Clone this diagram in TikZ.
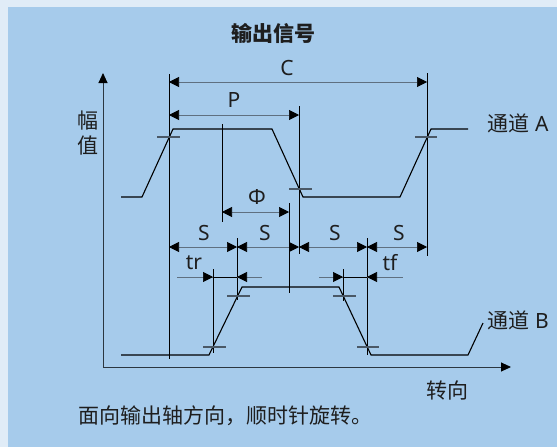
\documentclass[tikz,border=0pt]{standalone}
\usepackage{fontspec}
\setmainfont{Noto Sans}
\newfontfamily\cjk{Noto Sans CJK SC}
\usetikzlibrary{arrows.meta}
\definecolor{outerbg}{HTML}{E0ECF7}
\definecolor{panelbg}{HTML}{A6CBEB}
\definecolor{dimgray}{HTML}{5F7080}
\definecolor{tickgray}{HTML}{4A5866}
\definecolor{axiscol}{HTML}{2B3640}
\definecolor{textcol}{HTML}{1E1E1E}
\begin{document}
\begin{tikzpicture}[x=1pt,y=-1pt,
  wave/.style={black,line width=1.1pt},
  vline/.style={black,line width=0.9pt},
  tickmark/.style={draw=tickgray,line width=1.6pt},
  dimline/.style={draw=dimgray,line width=0.7pt},
  axisline/.style={draw=axiscol,line width=0.9pt},
  lbl/.style={font=\fontsize{21}{25}\selectfont, text=textcol, inner sep=0pt},
  cjklbl/.style={font=\cjk\fontsize{21}{25}\selectfont, text=textcol, inner sep=0pt},
  >={Triangle[length=10pt,width=10pt,color=black]}
]
\fill[outerbg] (0,0) rectangle (557,447);
\fill[panelbg] (8,7) rectangle (557,447);
\useasboundingbox (0,0) rectangle (557,447);

% axes
\coordinate (ytop) at (103,73);
\coordinate (orig) at (103,367);
\coordinate (xend) at (511,367);
\draw[axisline,<->,>={Triangle[length=10pt,width=9pt,color=black]}] (ytop) -- (orig) -- (xend);

% waveforms
\draw[wave] (121,197) -- (142,197) -- (173,129) -- (272,129) -- (303,197) -- (400,197) -- (431,129) -- (468,129);
\draw[wave] (121,355) -- (209,355) -- (242,287) -- (339,287) -- (371,355) -- (468,355) -- (483,323);

% vertical reference lines
\draw[vline] (169,74) -- (169,359);
\draw[vline] (299,106) -- (299,254);
\draw[vline] (427,73) -- (427,256);
\draw[vline] (222,124) -- (222,222);
\draw[vline] (289,203) -- (289,293);
\draw[vline] (237,238) -- (237,300);
\draw[vline] (367,238) -- (367,355);
\draw[vline] (213,269) -- (213,353);
\draw[vline] (343,269) -- (343,301);

% tick marks
\draw[tickmark] (157,137) -- (180,137);
\draw[tickmark] (289,189) -- (312,189);
\draw[tickmark] (415,137) -- (437,137);
\draw[tickmark] (203,347) -- (226,347);
\draw[tickmark] (227,296) -- (250,296);
\draw[tickmark] (333,296) -- (356,296);
\draw[tickmark] (357,347) -- (379,347);

% dimensions
\draw[dimline,<->] (169,82) -- (427,82);
\draw[dimline,<->] (169,115) -- (299,115);
\draw[dimline,<->] (222,212) -- (289,212);
\draw[dimline,<->] (169,247) -- (237,247);
\draw[dimline,<->] (237,247) -- (299,247);
\draw[dimline,<->] (299,247) -- (367,247);
\draw[dimline,<->] (367,247) -- (427,247);
% tr
\draw[dimline] (177,277) -- (262,277);
\draw[vline] (213,277) -- (237,277);
\draw[dimline,->] (190,277) -- (213,277);
\draw[dimline,->] (255,277) -- (237,277);
% tf
\draw[dimline] (319,277) -- (403,277);
\draw[vline] (343,277) -- (367,277);
\draw[dimline,->] (325,277) -- (343,277);
\draw[dimline,->] (390,277) -- (367,277);

% labels
\node[cjklbl,font=\cjk\bfseries\fontsize{21}{25}\selectfont] (title) at (273,33) {输出信号};
\node[lbl] (lc) at (287,68) {C};
\node[lbl] (lp) at (234,100) {P};
\node[lbl] (lphi) at (257,197) {Φ};
\node[lbl] (ls1) at (204,233) {S};
\node[lbl] (ls2) at (265,233) {S};
\node[lbl] (ls3) at (335,233) {S};
\node[lbl] (ls4) at (399,233) {S};
\node[lbl] (ltr) at (194,263) {tr};
\node[lbl] (ltf) at (390,263) {tf};
\node[cjklbl] (amp1) at (87.5,121) {幅};
\node[cjklbl] (amp2) at (87.5,145.5) {值};
\node[cjklbl,anchor=west] (cha) at (487,123) {通道\hspace{6pt}{\fontspec{Noto Sans}\fontsize{21}{25}\selectfont A}};
\node[cjklbl,anchor=west] (chb) at (487,320) {通道\hspace{6pt}{\fontspec{Noto Sans}\fontsize{21}{25}\selectfont B}};
\node[cjklbl] (rot) at (447,391) {转向};
\node[cjklbl,anchor=west] (cap) at (78,416) {面向输出轴方向，顺时针旋转。};
\end{tikzpicture}
\end{document}
